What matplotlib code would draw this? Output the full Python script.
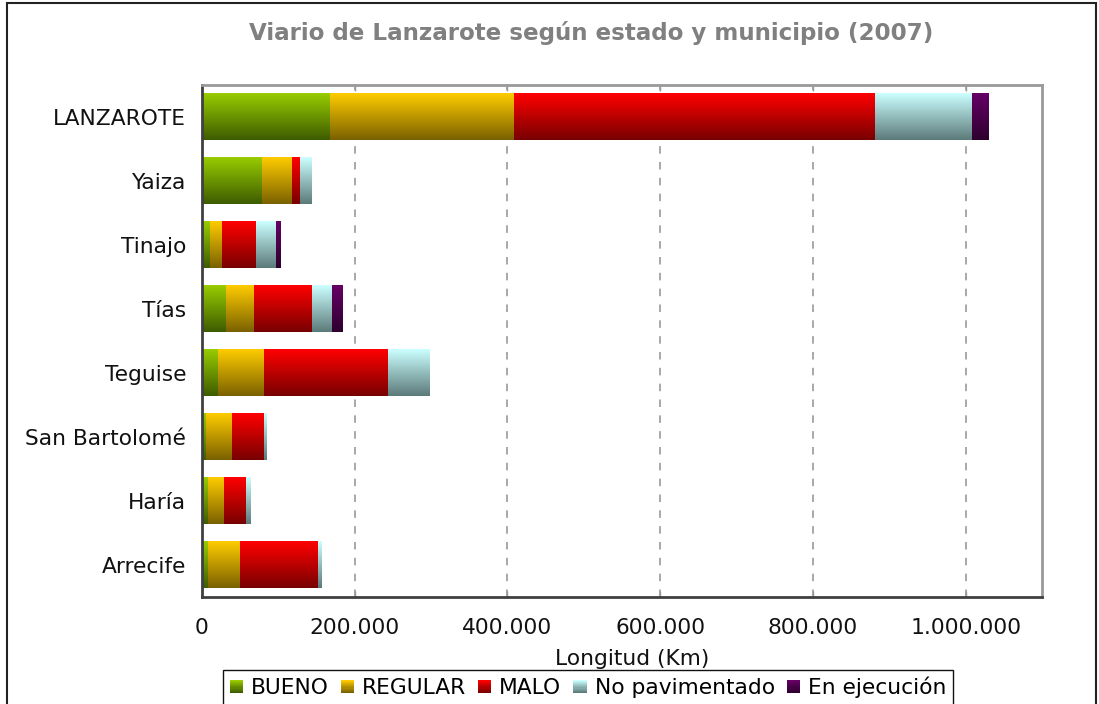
import numpy as np
import matplotlib
matplotlib.use("Agg")
import matplotlib.pyplot as plt
from matplotlib.patches import Rectangle
from matplotlib.legend_handler import HandlerBase
from matplotlib.ticker import FuncFormatter
from matplotlib.colors import to_rgb

# ---- data ----
categories = ["LANZAROTE", "Yaiza", "Tinajo", "Tías", "Teguise",
              "San Bartolomé", "Haría", "Arrecife"]
series_names = ["BUENO", "REGULAR", "MALO", "No pavimentado", "En ejecución"]
bueno = [167800, 78600, 10500, 31500, 21000, 5200, 7900, 7900]
regular = [241100, 39400, 15700, 36700, 60300, 34100, 20900, 41900]
malo = [471800, 10400, 44600, 76000, 162500, 42000, 28900, 102200]
no_pavimentado = [127200, 14500, 26200, 26200, 53700, 3900, 6500, 4000]
en_ejecucion = [22200, 0, 6500, 14400, 0, 0, 0, 0]
x_ticks = [0, 200000, 400000, 600000, 800000, 1000000]

series_values = [bueno, regular, malo, no_pavimentado, en_ejecucion]
grad_top = ["#99CC00", "#FFCC00", "#FF0000", "#CCFFFF", "#660066"]
grad_bot = ["#3D5C00", "#7A6100", "#780000", "#5C7A7A", "#2E002E"]

FS = 15.7
plt.rcParams['font.family'] = ['DejaVu Sans']

fig = plt.figure(figsize=(10.99, 7.04), dpi=100)
W, H = 1099, 704
ax = fig.add_axes([202 / W, 1 - 597 / H, (1042 - 202) / W, (597 - 85) / H])


def gradient(top, bot, n=128):
    t = np.linspace(0, 1, n)[:, None]
    a = np.array(to_rgb(top))[None, :]
    b = np.array(to_rgb(bot))[None, :]
    return (a * (1 - t) + b * t)[:, None, :]


y = np.arange(len(categories))
left = np.zeros(len(categories))
for vals, top, bot in zip(series_values, grad_top, grad_bot):
    vals = np.array(vals, dtype=float)
    bars = ax.barh(y, vals, left=left, height=0.73, color='none',
                   edgecolor='none', zorder=2)
    img = gradient(top, bot)
    for p in bars.patches:
        if p.get_width() <= 0:
            continue
        x0, y0 = p.get_x(), p.get_y()
        x1, y1 = x0 + p.get_width(), y0 + p.get_height()
        ax.imshow(img, extent=(x0, x1, y1, y0), origin='upper',
                  aspect='auto', interpolation='bilinear', zorder=2)
    left += vals

ax.set_xlim(0, 1100000)
ax.set_ylim(len(categories) - 0.5, -0.5)
ax.set_yticks(y)
ax.set_yticklabels(categories, fontsize=FS, color='#111111')
ax.tick_params(axis='y', length=0, pad=11.5)
ax.set_xticks(x_ticks)
ax.xaxis.set_major_formatter(FuncFormatter(lambda v, p: f"{int(v):,}".replace(",", ".")))
ax.tick_params(axis='x', direction='in', length=4, width=1, color='#999999',
               labelsize=FS, labelcolor='#111111', pad=15, top=True)

ax.set_axisbelow(True)
ax.grid(axis='x', color='#999999', linewidth=1.2, linestyle=(0, (4.5, 5)))
ax.grid(axis='y', visible=False)

for s in ['left', 'bottom']:
    ax.spines[s].set_color('#404040')
    ax.spines[s].set_linewidth(2)
for s in ['top', 'right']:
    ax.spines[s].set_color('#999999')
    ax.spines[s].set_linewidth(2)

ax.set_xlabel("Longitud (Km)", fontsize=FS, color='#111111')
ax.xaxis.set_label_coords((632 - 202) / (1042 - 202), -(659 - 597) / (597 - 85))
ax.xaxis.label.set_va('center')

fig.text(591 / W, 1 - 33 / H, "Viario de Lanzarote según estado y municipio (2007)",
         fontsize=16.6, fontweight='bold', color='#808080', ha='center', va='center')

# figure border
fig.patches.append(Rectangle((7 / W, -0.05), (1096 - 7) / W, 1.05 - 3 / H,
                             transform=fig.transFigure, fill=False,
                             edgecolor='#222222', linewidth=1.5))


class GradHandler(HandlerBase):
    def __init__(self, top, bot):
        super().__init__()
        self.top, self.bot = top, bot

    def create_artists(self, legend, orig_handle, xdescent, ydescent,
                       width, height, fontsize, trans):
        n = 12
        arts = []
        a = np.array(to_rgb(self.top))
        b = np.array(to_rgb(self.bot))
        for i in range(n):
            t = i / (n - 1)
            c = a * (1 - t) + b * t
            r = Rectangle((-xdescent, -ydescent + height * (1 - (i + 1) / n)),
                          width, height / n, facecolor=c, edgecolor='none',
                          transform=trans)
            arts.append(r)
        return arts


handles = [Rectangle((0, 0), 1, 1) for _ in series_names]
hmap = {h: GradHandler(t, b) for h, t, b in zip(handles, grad_top, grad_bot)}
leg = fig.legend(handles, series_names, handler_map=hmap, ncol=5,
                 loc='upper center', bbox_to_anchor=(588 / W, 1 - 670 / H),
                 fontsize=FS, frameon=True, fancybox=False, framealpha=1,
                 edgecolor='#111111', handlelength=0.6, handleheight=0.55,
                 handletextpad=0.37, columnspacing=0.55, borderpad=0.3,
                 borderaxespad=0)
leg.get_frame().set_linewidth(1)

fig.savefig("out.png", dpi=100)
